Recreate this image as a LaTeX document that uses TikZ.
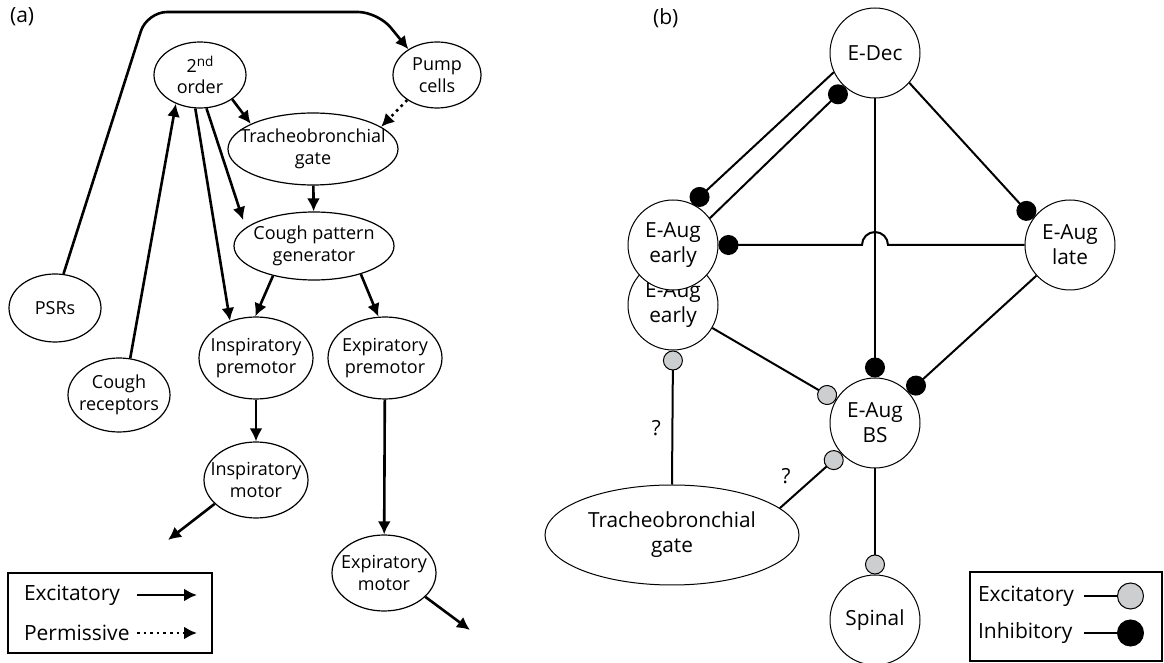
\documentclass[tikz,border=0pt]{standalone}
\usepackage{fontspec}
\setmainfont{Open Sans}
\usetikzlibrary{arrows.meta,shapes.geometric}
\definecolor{excgray}{RGB}{205,206,207}

\begin{document}
\begin{tikzpicture}[
    x=0.5pt, y=-0.5pt,
    every node/.style={font=\fontsize{9}{10.7}\selectfont},
    cell/.style={draw, ellipse, line width=0.6pt, fill=white, align=center, inner xsep=-8pt, inner ysep=-3pt},
    unit/.style={draw, circle, line width=0.5pt, fill=white, align=center, inner sep=0pt, minimum size=45pt, font=\fontsize{10.4}{12.5}\selectfont},
    big/.style={font=\fontsize{10.4}{12.5}\selectfont},
    key/.style={font=\fontsize{10.5}{12}\selectfont, anchor=west},
    flow/.style={-{Latex[length=6.5pt, width=6.5pt]}, line width=1.3pt},
    permit/.style={flow, dotted},
    exc/.style={-{Circle[length=10pt, line width=0.5pt, fill=excgray]}, line width=1pt},
    excbig/.style={-{Circle[length=13.5pt, line width=0.5pt, fill=excgray]}, line width=1pt},
    inh/.style={-{Circle[length=10pt]}, line width=1pt},
    inhbig/.style={-{Circle[length=13.5pt]}, line width=1pt}
]
\useasboundingbox (0,0) rectangle (1164,663);
\node[key] (laba) at (3,17) {(a)};
\node[key] (labb) at (646,18) {(b)};
\node[cell, minimum width=46pt, minimum height=33pt] (ord2) at (200,75) {2\raisebox{2.8pt}{\fontsize{6.8}{7}\selectfont nd}\\order};
\node[cell, minimum width=44pt, minimum height=33pt] (pump) at (437,75) {Pump\\cells};
\node[cell, minimum width=85pt, minimum height=36pt] (tbg) at (313,149) {Tracheobronchial\\gate};
\node[cell, minimum width=80pt, minimum height=34pt] (cpg) at (314,246) {Cough pattern\\generator};
\node[cell, minimum width=46pt, minimum height=34pt] (psr) at (55,308) {PSRs};
\node[cell, minimum width=51pt, minimum height=37pt] (crec) at (119,395) {Cough\\receptors};
\node[cell, minimum width=57pt, minimum height=41pt] (ipm) at (256,358) {Inspiratory\\premotor};
\node[cell, minimum width=57pt, minimum height=41pt] (epm) at (385,358) {Expiratory\\premotor};
\node[cell, minimum width=52pt, minimum height=38pt] (imot) at (256,480) {Inspiratory\\motor};
\node[cell, minimum width=52pt, minimum height=38pt] (emot) at (384,573) {Expiratory\\motor};
\coordinate (bendL) at (147,12);
\coordinate (bendR) at (378,12);
\coordinate (iout) at (168,540);
\coordinate (eout) at (470,630);
\draw[flow, rounded corners=10pt] (psr.76) -- (bendL) -- (bendR) -- (pump.138);
\draw[flow] (crec.73) -- (ord2.230);
\draw[flow] (ord2.-37) -- (tbg.158);
\draw[flow, shorten >=4pt] (ord2.-79) -- (cpg.165);
\draw[flow] (ord2.-98) -- (ipm.125);
\draw[permit] (pump.220) -- (tbg.18);
\draw[flow] (tbg) -- (cpg);
\draw[flow] (cpg.216) -- (ipm.91);
\draw[flow] (cpg.-31) -- (epm.99);
\draw[flow] (ipm) -- (imot);
\draw[flow] (epm) -- (emot);
\draw[flow] (imot.210) -- (iout);
\draw[flow] (emot.-30) -- (eout);
\node[draw, line width=0.6pt, minimum width=102pt, minimum height=40pt] (keya) at (110,613) {};
\node[key] (kflow) at (17,595) {Excitatory};
\node[key] (kperm) at (17,633) {Permissive};
\coordinate (kflowA) at (137,595);
\coordinate (kflowB) at (197,595);
\coordinate (kpermA) at (137,633);
\coordinate (kpermB) at (197,633);
\draw[flow] (kflowA) -- (kflowB);
\draw[permit] (kpermA) -- (kpermB);
\node[unit] (early2) at (673,305) {E-Aug\\early};
\node[unit] (early) at (673,245) {E-Aug\\early};
\node[unit] (edec) at (875,53) {E-Dec};
\node[unit] (late) at (1070,245) {E-Aug\\late};
\node[unit] (bs) at (875,423) {E-Aug\\BS};
\node[unit] (spinal) at (875,620) {Spinal};
\node[cell, big, line width=0.5pt, minimum width=127pt, minimum height=50pt] (tbg2) at (672,535) {Tracheobronchial\\gate};
\coordinate (hopR) at (888,245);
\draw[inh] (edec.205) -- (early.65);
\draw[inh] (early.36) -- (edec.229);
\draw[inh] (edec.-41) -- (late.144);
\draw[inh] (edec) -- (bs);
\draw[inh] (late.west) -- (hopR) arc[start angle=0, end angle=180, radius=6.5pt] -- (early.east);
\draw[inh] (late) -- (bs);
\draw[exc] (early2) -- (bs);
\draw[exc] (tbg2.north) -- node[big, pos=0.42, left=2pt] {?} (early2.south);
\draw[exc] (tbg2.14) -- node[big, pos=0.3, above left] {?} (bs.222);
\draw[exc] (bs) -- (spinal);
\node[draw, line width=0.6pt, minimum width=96pt, minimum height=44.5pt] (keyb) at (1066,616.5) {};
\node[key] (kexc) at (971,596) {Excitatory};
\node[key] (kinh) at (971,633) {Inhibitory};
\coordinate (kexcA) at (1084,596);
\coordinate (kexcB) at (1144,596);
\coordinate (kinhA) at (1084,633);
\coordinate (kinhB) at (1144,633);
\draw[excbig] (kexcA) -- (kexcB);
\draw[inhbig] (kinhA) -- (kinhB);
\end{tikzpicture}
\end{document}
